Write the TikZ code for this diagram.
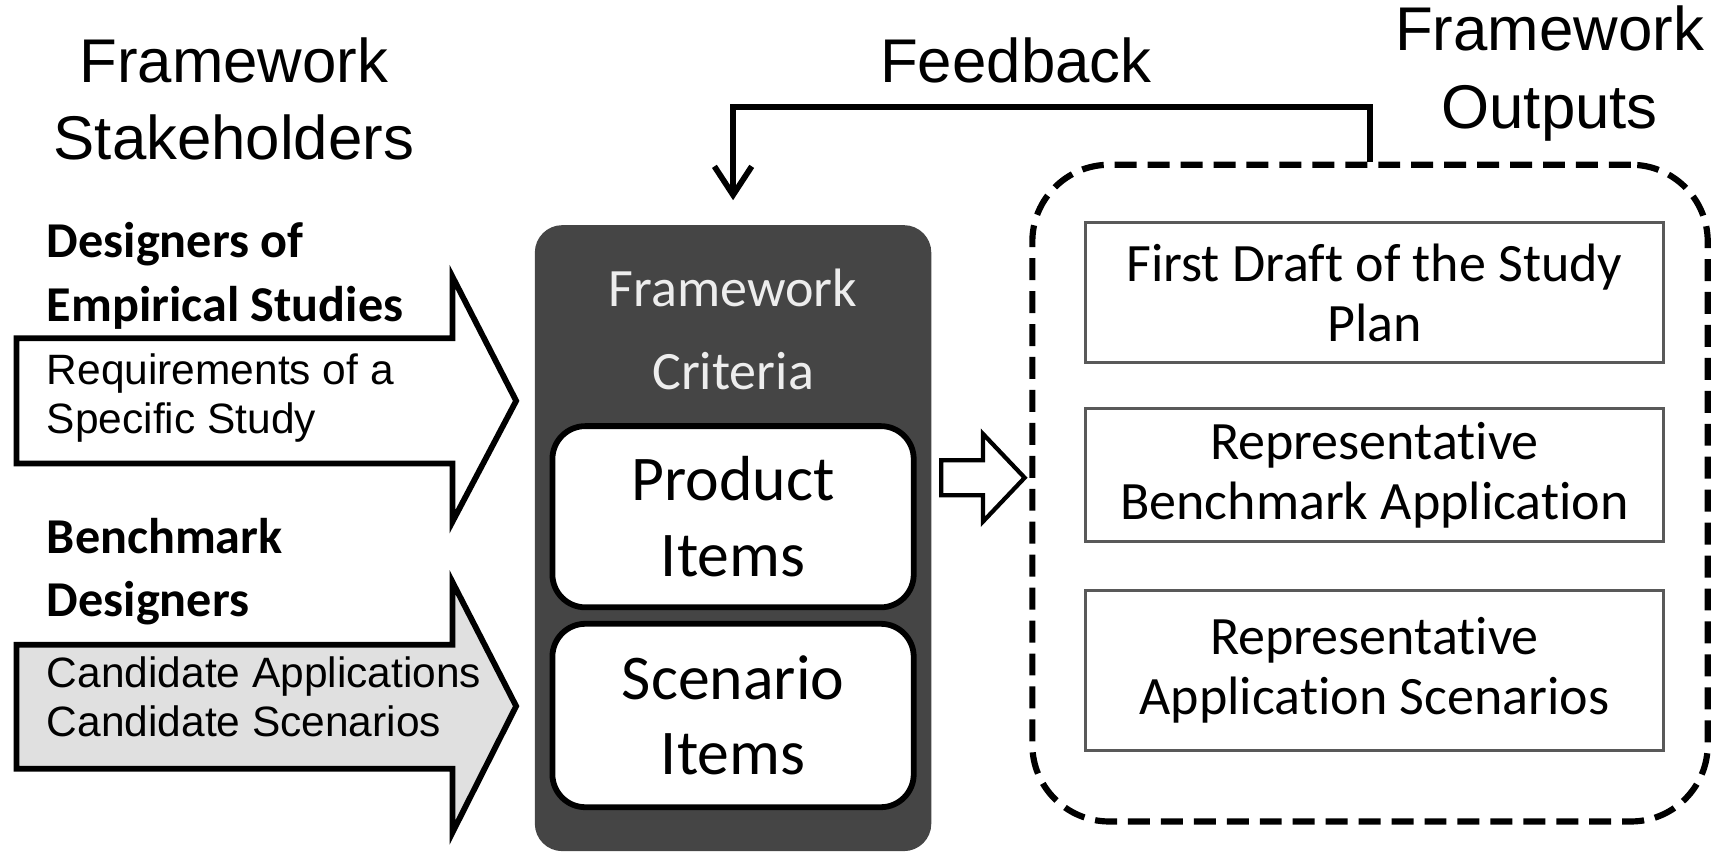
\documentclass[tikz,border=0pt]{standalone}
\usepackage{fontspec}
\setmainfont{Liberation Sans}
\newfontfamily\carlito[Ligatures=NoCommon]{Carlito}
\usetikzlibrary{arrows.meta}

\begin{document}
\begin{tikzpicture}[
        title/.style={font=\fontsize{16}{20}\selectfont, align=center},
        who/.style={anchor=west, align=left, inner sep=0pt, font=\carlito\bfseries\fontsize{13}{16.5}\selectfont},
        what/.style={anchor=west, align=left, inner sep=0pt, font=\fontsize{11}{12.8}\selectfont},
        bigarrow/.style={line width=1.5pt, line join=miter},
        item/.style={draw, line width=1.5pt, fill=white, rounded corners=0.3cm, minimum width=3.29cm, align=center, font=\carlito\fontsize{16.5}{19.5}\selectfont},
        output/.style={draw=black!65, line width=0.8pt, minimum width=5.27cm, align=center, font=\carlito\fontsize{14}{15.5}\selectfont},
    ]
        \useasboundingbox (0,0) rectangle (15.68,7.78);

        % column titles
        \node[title] (stake) at (2.13, 6.88) {Framework\\Stakeholders};
        \node[title] (feedtext) at (9.25, 7.23) {Feedback};
        \node[title] (outtitle) at (14.11, 7.11) {Framework\\Outputs};

        % stakeholders and their input arrows
        \draw[bigarrow, fill=white] (0.15,4.70) -- (4.12,4.70) -- (4.12,5.26) -- (4.70,4.13)
            -- (4.12,3.03) -- (4.12,3.56) -- (0.15,3.56) -- cycle;
        \draw[bigarrow, fill=black!12] (0.15,1.91) -- (4.12,1.91) -- (4.12,2.48) -- (4.70,1.35)
            -- (4.12,0.20) -- (4.12,0.78) -- (0.15,0.78) -- cycle;
        \node[who] (esd) at (0.42, 5.27) {Designers of\\Empirical Studies};
        \node[what] (req) at (0.42, 4.155) {Requirements of a\\Specific Study};
        \node[who] (bmd) at (0.42, 2.575) {Benchmark\\Designers};
        \node[what] (cand) at (0.42, 1.435) {Candidate Applications\\Candidate Scenarios};

        % criteria block
        \node[fill=black!73, rounded corners=0.25cm, minimum width=3.61cm, minimum height=5.70cm] (criteria) at (6.675, 2.88) {};
        \node[align=center, text=white!93!black, font=\carlito\fontsize{14}{21.5}\selectfont] (crit) at (6.675, 4.78) {Framework\\Criteria};
        \node[item, minimum height=1.65cm] (prod) at (6.675, 3.075) {Product\\Items};
        \node[item, minimum height=1.67cm] (scen) at (6.675, 1.265) {Scenario\\Items};

        \draw[line width=1.1pt, line join=miter, fill=white] (8.57,3.59) -- (8.95,3.59) -- (8.95,3.83) -- (9.33,3.43)
            -- (8.95,3.03) -- (8.95,3.27) -- (8.57,3.27) -- cycle;

        % outputs
        \node[draw, line width=1.6pt, dash pattern=on 0.2cm off 0.1cm, rounded corners=0.7cm,
            minimum width=6.15cm, minimum height=5.98cm] (outputs) at (12.475, 3.29) {};
        \node[output, minimum height=1.27cm] (draft) at (12.515, 5.115) {First Draft of the Study\\Plan};
        \node[output, minimum height=1.21cm] (bench) at (12.515, 3.455) {Representative\\Benchmark Application};
        \node[output, minimum height=1.45cm] (appsc) at (12.515, 1.675) {Representative\\Application Scenarios};

        % feedback loop
        \draw[line width=1.5pt, -{Straight Barb[length=2.6mm, width=3.4mm]}] (outputs.north) -- ++(0,0.5)
            -| ([yshift=0.22cm]criteria.north);
    \end{tikzpicture}
\end{document}
